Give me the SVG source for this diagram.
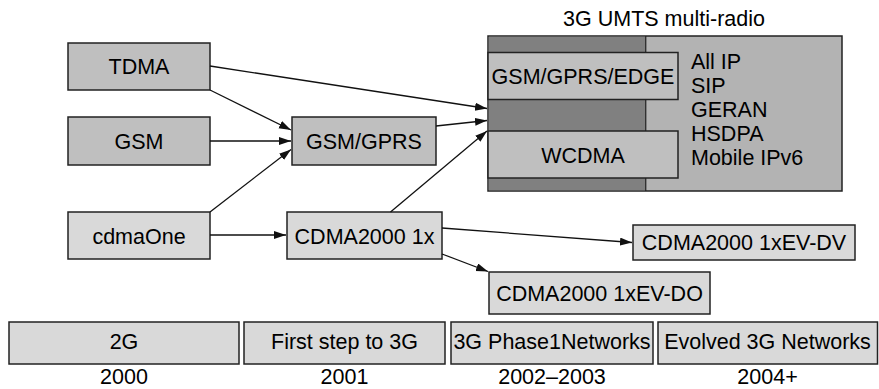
<svg xmlns="http://www.w3.org/2000/svg" width="879" height="389" viewBox="0 0 879 389">
<style>
text{font-family:"Liberation Sans",Arial,sans-serif;font-size:21.5px;fill:#000}
.c{text-anchor:middle}
.b{stroke:#222;stroke-width:1.5}
.g1{fill:#bfbfbf}
.g2{fill:#d9d9d9}
.dk{fill:#808080}
.md{fill:#b3b3b3}
.ln{stroke:#111;stroke-width:1.3;fill:none;marker-end:url(#ah)}
</style>
<defs>
<marker id="ah" markerUnits="userSpaceOnUse" markerWidth="13" markerHeight="9" refX="12" refY="4" orient="auto">
<path d="M0,0 L12,4 L0,8 z" fill="#111"/>
</marker>
</defs>
<g id="tdma"><rect class="b g1" x="68" y="43" width="142" height="47"/><text class="c" x="139" y="73.5">TDMA</text></g>
<g id="gsm"><rect class="b g1" x="68" y="117" width="142" height="48"/><text class="c" x="139" y="148.5">GSM</text></g>
<g id="cdmaone"><rect class="b g2" x="68" y="212" width="142" height="47"/><text class="c" x="139" y="243.5">cdmaOne</text></g>
<g id="gsmgprs"><rect class="b g1" x="292" y="117" width="144" height="48"/><text class="c" x="364" y="148.5">GSM/GPRS</text></g>
<g id="cdma1x"><rect class="b g2" x="287" y="212" width="155" height="47"/><text class="c" x="364.5" y="243.5">CDMA2000 1x</text></g>
<g id="umts">
<text class="c" x="664" y="26">3G UMTS multi-radio</text>
<rect class="b md" x="488" y="36" width="354" height="155"/>
<rect class="dk" x="488.75" y="36.75" width="157" height="153.5"/>
<line x1="645.75" y1="36" x2="645.75" y2="191" stroke="#222" stroke-width="1.2"/>
<rect class="b g1" x="488" y="52.5" width="190" height="47"/>
<text class="c" x="583" y="84">GSM/GPRS/EDGE</text>
<rect class="b g1" x="488" y="131" width="190" height="47"/>
<text class="c" x="583" y="162.5">WCDMA</text>
<text x="691" y="69">All IP</text>
<text x="691" y="93">SIP</text>
<text x="691" y="117">GERAN</text>
<text x="691" y="141">HSDPA</text>
<text x="691" y="165">Mobile IPv6</text>
</g>
<g id="evdv"><rect class="b g2" x="633" y="225" width="222" height="35"/><text class="c" x="744" y="250">CDMA2000 1xEV-DV</text></g>
<g id="evdo"><rect class="b g2" x="489" y="272" width="221" height="42"/><text class="c" x="599.5" y="301">CDMA2000 1xEV-DO</text></g>
<g id="timeline">
<rect class="b g2" x="9" y="322" width="230" height="42"/><text class="c" x="124" y="349">2G</text>
<rect class="b g2" x="244" y="322" width="201" height="42"/><text class="c" x="344.5" y="349">First step to 3G</text>
<rect class="b g2" x="451" y="322" width="202" height="42"/><text class="c" x="552" y="349">3G Phase1Networks</text>
<rect class="b g2" x="658" y="322" width="219.5" height="42"/><text class="c" x="767.5" y="349">Evolved 3G Networks</text>
<text class="c" x="124" y="384">2000</text>
<text class="c" x="344.5" y="384">2001</text>
<text class="c" x="552" y="384">2002–2003</text>
<text class="c" x="767.5" y="384">2004+</text>
</g>
<g id="connectors">
<line class="ln" x1="210" y1="66" x2="487" y2="108.5"/>
<line class="ln" x1="210" y1="90" x2="291" y2="130"/>
<line class="ln" x1="210" y1="141" x2="291" y2="141"/>
<line class="ln" x1="210" y1="212" x2="291" y2="149.5"/>
<line class="ln" x1="436" y1="126" x2="487" y2="120.5"/>
<line class="ln" x1="390.5" y1="212" x2="487" y2="131"/>
<line class="ln" x1="210" y1="235" x2="286" y2="235"/>
<line class="ln" x1="442" y1="228" x2="632" y2="242.5"/>
<line class="ln" x1="442" y1="254" x2="488" y2="271.5"/>
</g>
</svg>
